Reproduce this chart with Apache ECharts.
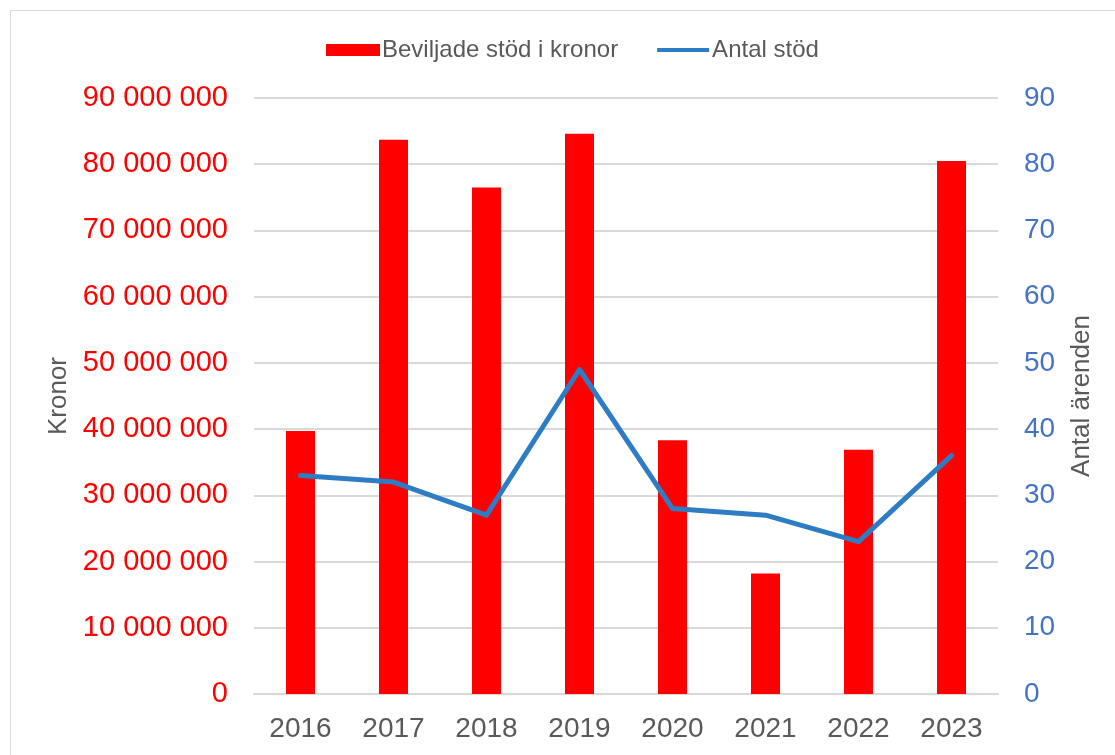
<!DOCTYPE html>
<html>
<head>
<meta charset="utf-8">
<script src="https://cdn.jsdelivr.net/npm/echarts@6/dist/echarts.min.js"></script>
<style>
  html, body { margin: 0; padding: 0; background: #fff; }
  #chart { width: 1115px; height: 755px; }
</style>
</head>
<body>
<div id="chart"></div>
<script>
// data
const years = ["2016", "2017", "2018", "2019", "2020", "2021", "2022", "2023"];
const kronor = [39700000, 83700000, 76500000, 84600000, 38300000, 18200000, 36900000, 80500000];
const antal = [33, 32, 27, 49, 28, 27, 23, 36];

const fontFam = "'Liberation Sans', Arial, sans-serif";

// 10 000 000 style
const spaced = (v) => String(v).replace(/\B(?=(\d{3})+(?!\d))/g, " ");

// thin line inside a 52x12 box for the legend
const lineIcon = "path://M0,0L0.01,0M0,4L52,4L52,8L0,8ZM52,12L51.99,12";

const chart = echarts.init(document.getElementById("chart"));

const option = {
  animation: false,
  backgroundColor: "#ffffff",
  textStyle: { fontFamily: fontFam },
  graphic: [
    {
      type: "rect",
      shape: { x: 10.5, y: 10.5, width: 1200, height: 900 },
      style: { fill: "none", stroke: "#d9d9d9", lineWidth: 1 },
      silent: true,
    },
  ],
  legend: {
    top: 33,
    left: 321,
    itemWidth: 54,
    itemHeight: 12,
    itemGap: 39,
    textStyle: { color: "#595959", fontSize: 24, fontFamily: fontFam, padding: [0, 0, 0, -3] },
    data: [
      { name: "Beviljade stöd i kronor", icon: "rect" },
      { name: "Antal stöd", icon: lineIcon },
    ],
  },
  grid: {
    left: 254,
    right: 117,
    top: 98,
    bottom: 61,
  },
  xAxis: {
    type: "category",
    data: years,
    axisTick: { show: false },
    axisLine: { lineStyle: { color: "#d9d9d9", width: 2 } },
    axisLabel: { color: "#595959", fontSize: 28, margin: 21 },
  },
  yAxis: [
    {
      type: "value",
      min: 0,
      max: 90000000,
      interval: 10000000,
      name: "Kronor",
      nameLocation: "middle",
      nameRotate: 90,
      nameGap: 179,
      nameTextStyle: { color: "#595959", fontSize: 26 },
      axisLabel: {
        color: "#ff0000",
        fontSize: 29,
        margin: 26,
        formatter: spaced,
      },
      splitLine: { lineStyle: { color: "#d9d9d9", width: 2 } },
      axisLine: { show: false },
      axisTick: { show: false },
    },
    {
      type: "value",
      min: 0,
      max: 90,
      interval: 10,
      name: "Antal ärenden",
      nameLocation: "middle",
      nameRotate: 90,
      nameGap: 71,
      nameTextStyle: { color: "#595959", fontSize: 26 },
      axisLabel: { color: "#4472c4", fontSize: 28, margin: 26 },
      splitLine: { show: false },
      axisLine: { show: false },
      axisTick: { show: false },
    },
  ],
  series: [
    {
      name: "Beviljade stöd i kronor",
      type: "bar",
      yAxisIndex: 0,
      barWidth: 29,
      itemStyle: { color: "#ff0000" },
      data: kronor,
    },
    {
      name: "Antal stöd",
      type: "line",
      yAxisIndex: 1,
      symbol: "none",
      lineStyle: { color: "#2e7dc4", width: 5, cap: "round", join: "round" },
      itemStyle: { color: "#2e7dc4" },
      data: antal,
    },
  ],
};

chart.setOption(option);
</script>
</body>
</html>
